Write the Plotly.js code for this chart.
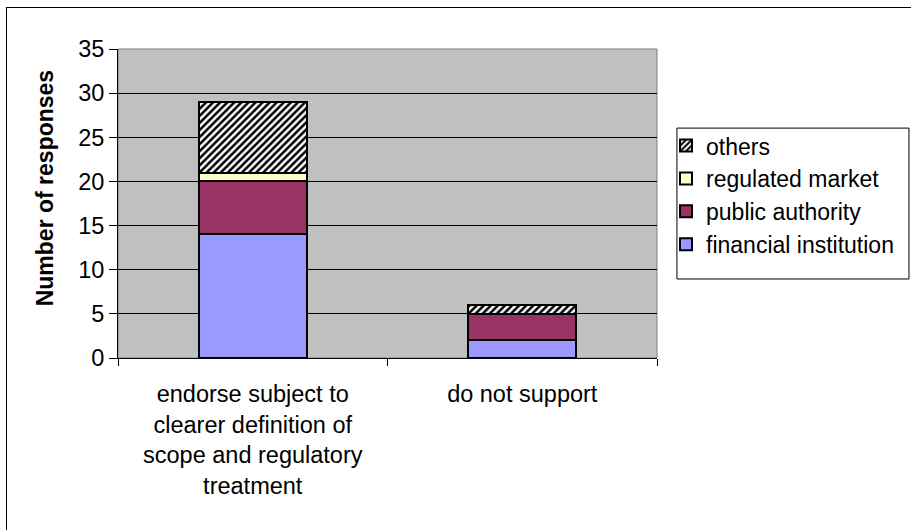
<!DOCTYPE html>
<html>
<head>
<meta charset="utf-8">
<script src="https://cdn.plot.ly/plotly-3.0.1.min.js"></script>
<style>
  html, body { margin: 0; padding: 0; background: #ffffff; }
  #wrap { position: relative; width: 911px; height: 530px; overflow: hidden; }
  #chart { width: 911px; height: 530px; }
  #frame {
    position: absolute; left: 6px; top: 7px; width: 930px; height: 560px;
    border-left: 1px solid #000; border-top: 1px solid #000;
    pointer-events: none; box-sizing: border-box;
  }
</style>
</head>
<body>
<div id="wrap">
  <div id="chart"></div>
  <div id="frame"></div>
</div>
<script>
// Survey answers, grouped by respondent type
const categories = [
  "endorse subject to<br>clearer definition of<br>scope and regulatory<br>treatment",
  "do not support"
];
const financialInstitution = [14, 2];
const publicAuthority = [6, 3];
const regulatedMarket = [1, 0];
const others = [8, 1];
const yTicks = [0, 5, 10, 15, 20, 25, 30, 35];
const yTitle = "Number of responses";

const FONT = "Arial, 'Liberation Sans', sans-serif";
const FS = 23.5;
const outline = { color: "#000000", width: 2 };

const traces = [
  { name: "financial institution", y: financialInstitution,
    marker: { color: "#9999FF", line: outline } },
  { name: "public authority", y: publicAuthority,
    marker: { color: "#993366", line: outline } },
  { name: "regulated market", y: regulatedMarket,
    marker: { color: "#FFFFCC", line: outline } },
  { name: "others", y: others,
    marker: { color: "#FFFFFF", line: outline,
      pattern: { shape: "/", fgcolor: "#000000", bgcolor: "#FFFFFF", size: 5, solidity: 0.5 } } }
].map(t => Object.assign({ type: "bar", x: categories, hoverinfo: "skip" }, t));

const layout = {
  width: 911, height: 530,
  margin: { l: 118, r: 254, t: 49, b: 172 },
  paper_bgcolor: "#FFFFFF",
  plot_bgcolor: "#C0C0C0",
  barmode: "stack",
  bargap: 0.6,
  font: { family: FONT, size: FS, color: "#000000" },
  showlegend: true,
  legend: {
    traceorder: "reversed",
    x: 1.0167, xanchor: "left",
    y: 0.757, yanchor: "top",
    bgcolor: "rgba(0,0,0,0)",
    borderwidth: 0,
    font: { family: FONT, size: 23, color: "#000000" },
    itemclick: false, itemdoubleclick: false
  },
  xaxis: {
    type: "category",
    tickson: "boundaries",
    ticks: "outside", ticklen: 7, tickcolor: "#000000", tickwidth: 1,
    ticklabelstandoff: 15,
    showline: true, linecolor: "#000000", linewidth: 1,
    showgrid: false, zeroline: false,
    tickfont: { family: FONT, size: FS, color: "#000000" },
    fixedrange: true
  },
  yaxis: {
    range: [0, 35],
    tickvals: yTicks,
    ticks: "outside", ticklen: 8, tickcolor: "#000000", tickwidth: 1,
    showline: true, linecolor: "#000000", linewidth: 1,
    showgrid: true, gridcolor: "#000000", gridwidth: 1,
    zeroline: false,
    tickfont: { family: FONT, size: FS, color: "#000000" },
    fixedrange: true
  },
  annotations: [
    { text: "<b>" + yTitle + "</b>", textangle: -90, showarrow: false,
      xref: "paper", yref: "paper", x: -0.135, y: 0.55,
      xanchor: "center", yanchor: "middle",
      font: { family: FONT, size: 23, color: "#000000" } }
  ],
  shapes: [
    // plot area frame (grey top/right edges)
    { type: "rect", xref: "paper", yref: "paper", x0: 0, x1: 1, y0: 0, y1: 1,
      line: { color: "#808080", width: 1 }, fillcolor: "rgba(0,0,0,0)", layer: "below" },
    // legend box
    { type: "rect", xref: "paper", yref: "paper", x0: 1.037, x1: 1.4675, y0: 0.2557, y1: 0.744,
      line: { color: "#000000", width: 1 }, fillcolor: "#FFFFFF", layer: "below" }
  ]
};

Plotly.newPlot("chart", traces, layout, { displayModeBar: false, staticPlot: true });
</script>
</body>
</html>
